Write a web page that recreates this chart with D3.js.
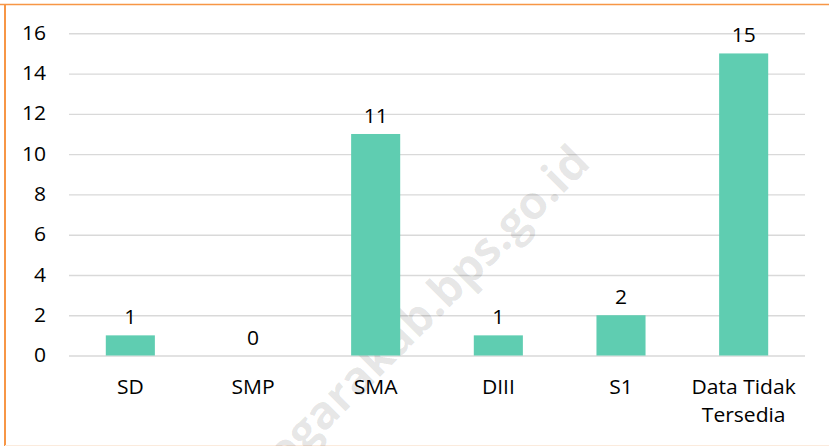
<!DOCTYPE html>
<html>
<head>
<meta charset="utf-8">
<script src="https://cdn.jsdelivr.net/npm/d3@7"></script>
<style>
  html, body { margin: 0; padding: 0; background: #fff; }
  svg { display: block; }
  text { font-family: "Open Sans", "Noto Sans", sans-serif; fill: #000; }
</style>
</head>
<body>
<svg id="chart" width="829" height="446"></svg>
<script>
const categories = ["SD", "SMP", "SMA", "DIII", "S1", "Data Tidak Tersedia"];
const categoryLines = [["SD"], ["SMP"], ["SMA"], ["DIII"], ["S1"], ["Data Tidak", "Tersedia"]];
const values = [1, 0, 11, 1, 2, 15];
const yTicks = [0, 2, 4, 6, 8, 10, 12, 14, 16];
const watermark = "banjarnegarakab.bps.go.id";

const W = 829, H = 446;
const plot = { left: 69, right: 805, top: 33.3, bottom: 355.5 };
const FS = 19.5, SX = 1.08;
const svg = d3.select("#chart");

// border
svg.append("line").attr("x1", 0).attr("x2", W).attr("y1", 4.5).attr("y2", 4.5)
  .attr("stroke", "#F79646").attr("stroke-width", 1.6);
svg.append("line").attr("x1", 5).attr("x2", 5).attr("y1", 4).attr("y2", H)
  .attr("stroke", "#F79646").attr("stroke-width", 2);
svg.append("line").attr("x1", 5).attr("x2", W).attr("y1", 445.5).attr("y2", 445.5)
  .attr("stroke", "#FBEBDD").attr("stroke-width", 1);

const x = d3.scaleBand().domain(categories).range([plot.left, plot.right]).padding(0);
const y = d3.scaleLinear().domain([0, 16]).range([plot.bottom, plot.top]);

// gridlines
const yAxis = d3.axisLeft(y).tickValues(yTicks).tickSize(-(plot.right - plot.left)).tickFormat("");
const gy = svg.append("g").attr("transform", `translate(${plot.left},0)`).call(yAxis);
gy.select(".domain").remove();
gy.selectAll(".tick line").attr("stroke", "#d9d9d9").attr("stroke-width", 1.4);

// helper for horizontally stretched text
function label(parent, tx, ty, str, anchor) {
  return parent.append("text")
    .attr("transform", `translate(${tx},${ty}) scale(${SX},1)`)
    .attr("text-anchor", anchor || "middle")
    .attr("font-size", FS)
    .text(str);
}

// y tick labels
const gyl = svg.append("g");
yTicks.forEach(t => label(gyl, 46, y(t) + 6.6, t, "end"));

// watermark
svg.append("text")
  .attr("transform", "translate(592,165) rotate(-45)")
  .attr("text-anchor", "end")
  .attr("font-family", "Liberation Sans, Arial, sans-serif")
  .attr("font-weight", "bold")
  .attr("font-size", 46)
  .style("fill", "rgba(0,0,0,0.1)")
  .text(watermark);

// bars
const barW = x.bandwidth() * 0.4;
svg.append("g").selectAll("rect").data(values).join("rect")
  .attr("x", (d, i) => x(categories[i]) + (x.bandwidth() - barW) / 2)
  .attr("y", d => y(d))
  .attr("width", barW)
  .attr("height", d => y(0) - y(d))
  .attr("fill", "#5FCDB1");

// value labels
const gv = svg.append("g");
values.forEach((v, i) => label(gv, x(categories[i]) + x.bandwidth() / 2, y(v) - 11, v));

// x axis labels
const gx = svg.append("g");
categoryLines.forEach((lines, i) => {
  lines.forEach((ln, j) => label(gx, x(categories[i]) + x.bandwidth() / 2, 394 + j * 27.5, ln));
});
</script>
</body>
</html>
